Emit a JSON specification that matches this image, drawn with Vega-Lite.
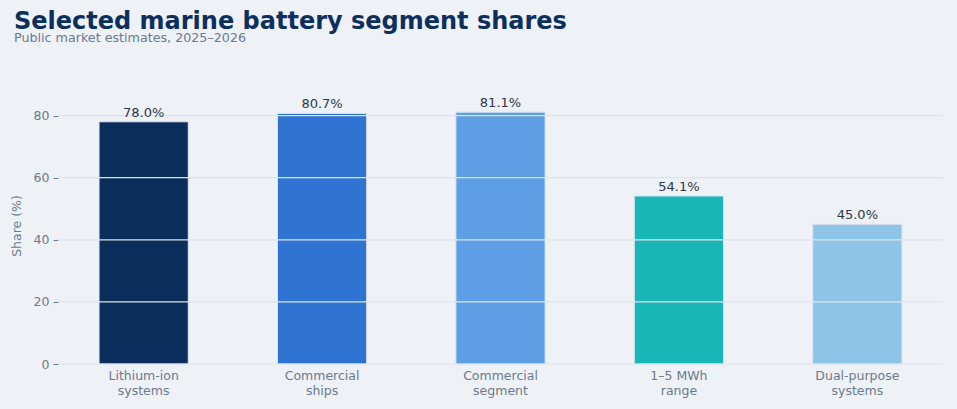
{
  "$schema": "https://vega.github.io/schema/vega-lite/v6.json",
  "autosize": {"type": "none"},
  "width": 885,
  "height": 277,
  "padding": {"left": 58, "top": 87, "right": 14, "bottom": 45},
  "background": "#eef1f6",
  "title": {
    "text": "Selected marine battery segment shares",
    "subtitle": "Public market estimates, 2025–2026",
    "anchor": "start",
    "frame": "group",
    "dx": -44,
    "offset": 42,
    "font": "DejaVu Sans",
    "fontSize": 24,
    "fontWeight": "bold",
    "color": "#0d2f5e",
    "subtitleFont": "DejaVu Sans",
    "subtitleFontSize": 12.7,
    "subtitleColor": "#6b7a8d",
    "subtitlePadding": -2
  },
  "datasets": {
    "shares": [
      {"segment": "Lithium-ion systems", "share": 78.0},
      {"segment": "Commercial ships", "share": 80.7},
      {"segment": "Commercial segment", "share": 81.1},
      {"segment": "1–5 MWh range", "share": 54.1},
      {"segment": "Dual-purpose systems", "share": 45.0}
    ],
    "gridlines": [
      {"share": 0}, {"share": 20}, {"share": 40}, {"share": 60}, {"share": 80}
    ]
  },
  "layer": [
    {
      "data": {"name": "shares"},
      "mark": {"type": "bar", "stroke": "#dbe5f2", "strokeWidth": 1},
      "encoding": {
        "x": {
          "field": "segment",
          "type": "nominal",
          "sort": null,
          "scale": {"paddingInner": 0.5, "paddingOuter": 0.23},
          "axis": {
            "title": null,
            "labelAngle": 0,
            "labelExpr": "datum.label == '1–5 MWh range' ? ['1–5 MWh', 'range'] : split(datum.label, ' ')",
            "labelFont": "DejaVu Sans",
            "labelFontSize": 12.5,
            "labelColor": "#6b7a8d",
            "labelPadding": 5,
            "labelLineHeight": 15,
            "domain": false,
            "ticks": false
          }
        },
        "y": {
          "field": "share",
          "type": "quantitative",
          "scale": {"domain": [0, 89.2], "nice": false},
          "axis": {
            "title": "Share (%)",
            "titleFont": "DejaVu Sans",
            "titleFontSize": 12.5,
            "titleFontWeight": "normal",
            "titleColor": "#6b7a8d",
            "titlePadding": 10,
            "values": [0, 20, 40, 60, 80],
            "labelFont": "DejaVu Sans",
            "labelFontSize": 12.5,
            "labelColor": "#6b7a8d",
            "labelPadding": 4,
            "domain": false,
            "tickSize": 5,
            "tickColor": "#6b7a8d",
            "grid": false
          }
        },
        "color": {
          "field": "segment",
          "type": "nominal",
          "sort": null,
          "scale": {
            "domain": ["Lithium-ion systems", "Commercial ships", "Commercial segment", "1–5 MWh range", "Dual-purpose systems"],
            "range": ["#0b2d5b", "#2f74d2", "#5e9ee4", "#19b6b8", "#8dc4e7"]
          },
          "legend": null
        }
      }
    },
    {
      "data": {"name": "gridlines"},
      "mark": {"type": "rule", "color": "#dde3ed", "strokeWidth": 1.2},
      "encoding": {
        "y": {"field": "share", "type": "quantitative"}
      }
    },
    {
      "data": {"name": "shares"},
      "mark": {
        "type": "text",
        "baseline": "bottom",
        "dy": -2,
        "font": "DejaVu Sans",
        "fontSize": 13,
        "color": "#2d3748",
        "text": {"expr": "format(datum.share, '.1f') + '%'"}
      },
      "encoding": {
        "x": {"field": "segment", "type": "nominal", "sort": null},
        "y": {"field": "share", "type": "quantitative"}
      }
    }
  ],
  "config": {"view": {"stroke": null}}
}
